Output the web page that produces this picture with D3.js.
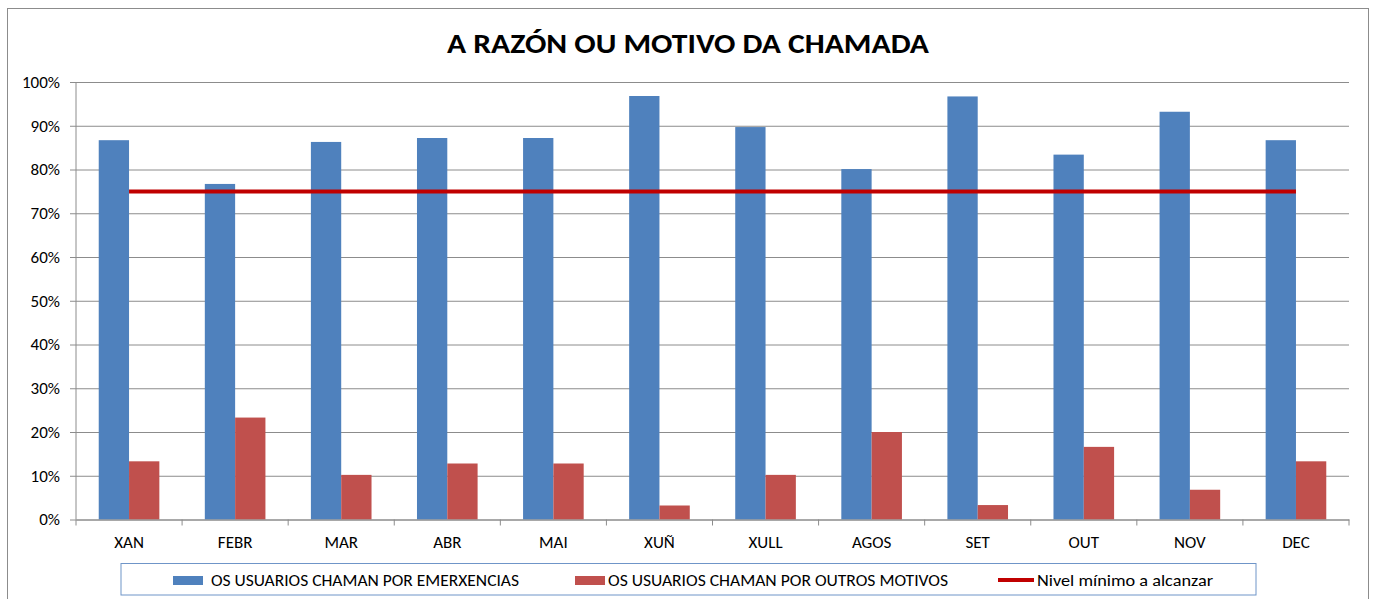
<!DOCTYPE html>
<html>
<head>
<meta charset="utf-8">
<script src="https://cdn.jsdelivr.net/npm/d3@7"></script>
<style>
  body { margin: 0; background: #fff; }
  text { font-family: Calibri, Carlito, Lato, sans-serif; fill: #000; }
</style>
</head>
<body>
<div id="main"></div>
<script>
const ctx = {
    w: 1375,
    h: 599,
    left: 76,
    right: 1349,
    top: 82,
    bottom: 519.5,
    BLUE: "#4F81BD",
    RED: "#C0504D",
    LINE_RED: "#C00000",
    GRID: "#8C8C8C",
    FONT: "Calibri, Carlito, Lato, sans-serif",
};

// data
const MONTHS = ["XAN", "FEBR", "MAR", "ABR", "MAI", "XUÑ", "XULL", "AGOS", "SET", "OUT", "NOV", "DEC"];
const SERIES = ["OS USUARIOS CHAMAN POR EMERXENCIAS", "OS USUARIOS CHAMAN POR OUTROS MOTIVOS"];
const EMERXENCIAS = [86.7, 76.7, 86.3, 87.2, 87.2, 96.8, 89.7, 80.1, 96.7, 83.4, 93.2, 86.7];
const OUTROS = [13.3, 23.3, 10.2, 12.8, 12.8, 3.2, 10.2, 20.0, 3.3, 16.6, 6.8, 13.3];
const NIVEL_LABEL = "Nivel mínimo a alcanzar";
const NIVEL = MONTHS.map(() => 75);
const Y_TICKS = [0, 10, 20, 30, 40, 50, 60, 70, 80, 90, 100];
const TITLE = "A RAZÓN OU MOTIVO DA CHAMADA";

function createViz() {
    let svgEl = d3.select("#main").append("svg")
        .attr("width", ctx.w)
        .attr("height", ctx.h);

    // chart border
    svgEl.append("rect")
        .attr("x", 7.5).attr("y", 8.5)
        .attr("width", 1361).attr("height", 620)
        .attr("fill", "none")
        .attr("stroke", "#8C8C8C");

    svgEl.append("text")
        .attr("x", 688).attr("y", 52.5)
        .attr("text-anchor", "middle")
        .attr("textLength", 482)
        .attr("lengthAdjust", "spacingAndGlyphs")
        .style("font-size", "29px")
        .style("font-weight", "bold")
        .text(TITLE);

    let x = d3.scaleBand().domain(MONTHS).range([ctx.left, ctx.right]);
    let xs = d3.scaleBand().domain(SERIES).range([0, x.bandwidth()])
        .paddingInner(0).paddingOuter(0.75);
    let y = d3.scaleLinear().domain([0, 100]).range([ctx.bottom, ctx.top]);

    // gridlines + y axis
    let yAxis = d3.axisLeft(y).tickValues(Y_TICKS)
        .tickSize(-(ctx.right - ctx.left))
        .tickPadding(16)
        .tickFormat((d) => d + "%");
    let gy = svgEl.append("g")
        .attr("transform", `translate(${ctx.left},0)`)
        .call(yAxis);
    gy.select(".domain").remove();
    gy.selectAll(".tick line").attr("stroke", ctx.GRID).attr("x1", -6);
    gy.selectAll(".tick text").style("font-size", "17px")
        .style("font-family", ctx.FONT).attr("fill", "#000");
    svgEl.append("line")
        .attr("x1", ctx.left).attr("x2", ctx.left)
        .attr("y1", ctx.top).attr("y2", ctx.bottom)
        .attr("stroke", ctx.GRID);

    // bars
    let rows = MONTHS.map((m, i) => ({ m: m, vals: [EMERXENCIAS[i], OUTROS[i]] }));
    let groups = svgEl.selectAll(".month")
        .data(rows)
        .enter().append("g")
        .attr("transform", (d) => `translate(${x(d.m)},0)`);
    groups.selectAll("rect")
        .data((d) => d.vals.map((v, j) => ({ s: SERIES[j], v: v })))
        .enter().append("rect")
        .attr("x", (d) => xs(d.s))
        .attr("width", xs.bandwidth())
        .attr("y", (d) => y(d.v))
        .attr("height", (d) => ctx.bottom - y(d.v))
        .attr("fill", (d, j) => (j == 0 ? ctx.BLUE : ctx.RED));

    // x axis
    let gx = svgEl.append("g")
        .attr("transform", `translate(0,${ctx.bottom})`)
        .call(d3.axisBottom(x).tickSize(0).tickPadding(16));
    gx.select(".domain").attr("stroke", ctx.GRID);
    gx.selectAll(".tick text").style("font-size", "17px")
        .style("font-family", ctx.FONT).attr("fill", "#000");
    let bounds = MONTHS.map((m) => x(m)).concat([ctx.right]);
    gx.selectAll(".sep")
        .data(bounds)
        .enter().append("line")
        .attr("x1", (d) => d).attr("x2", (d) => d)
        .attr("y1", 0).attr("y2", 6)
        .attr("stroke", ctx.GRID);

    // target line
    let line = d3.line()
        .x((d, i) => x(MONTHS[i]) + x.bandwidth() / 2)
        .y((d) => y(d));
    svgEl.append("path")
        .datum(NIVEL)
        .attr("d", line)
        .attr("fill", "none")
        .attr("stroke", ctx.LINE_RED)
        .attr("stroke-width", 4);

    // legend
    let legG = svgEl.append("g");
    legG.append("rect")
        .attr("x", 121).attr("y", 563.5)
        .attr("width", 1135).attr("height", 31.5)
        .attr("fill", "#fff")
        .attr("stroke", "#6F95C8");
    let items = [
        { label: SERIES[0], kind: "rect", color: ctx.BLUE, x: 173, tx: 211, len: 308 },
        { label: SERIES[1], kind: "rect", color: ctx.RED, x: 575, tx: 608, len: 340 },
        { label: NIVEL_LABEL, kind: "line", color: ctx.LINE_RED, x: 998, tx: 1037, len: 176 },
    ];
    items.forEach(function (it) {
        if (it.kind == "rect") {
            legG.append("rect")
                .attr("x", it.x).attr("y", 576)
                .attr("width", 30).attr("height", 9)
                .attr("fill", it.color);
        } else {
            legG.append("line")
                .attr("x1", it.x).attr("x2", it.x + 36)
                .attr("y1", 580).attr("y2", 580)
                .attr("stroke", it.color)
                .attr("stroke-width", 4);
        }
        legG.append("text")
            .attr("x", it.tx).attr("y", 585.5)
            .attr("textLength", it.len)
            .attr("lengthAdjust", "spacingAndGlyphs")
            .style("font-size", "15.5px")
            .text(it.label);
    });
}

createViz();
</script>
</body>
</html>
